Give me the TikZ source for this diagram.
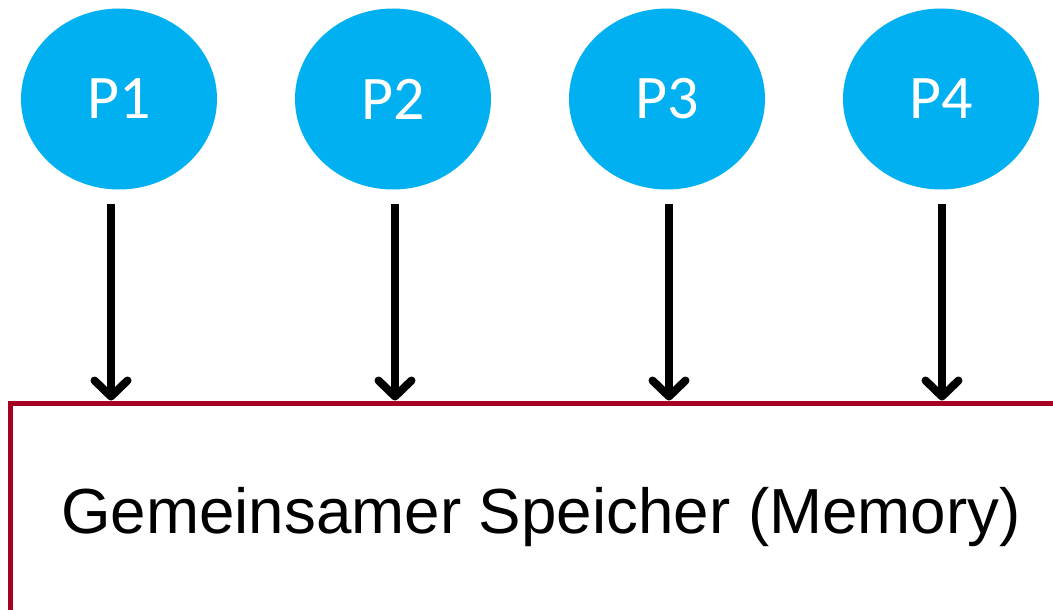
\documentclass[tikz,border=0pt]{standalone}
\usepackage{fontspec}
\setmainfont{Liberation Sans}
\newfontfamily\calibri{Carlito}
\usepackage{tikz}
\usetikzlibrary{positioning, shapes.geometric, arrows.meta}

\begin{document}
\begin{tikzpicture}[x=1pt, y=-1pt, node distance=78pt, >={Straight Barb[length=16pt, width=33pt, round]}, line width=8pt,
    proc/.style={ellipse, fill=procblue, text=white, minimum width=196pt, minimum height=181pt, inner sep=0pt, outer sep=0pt, font=\calibri\fontsize{62}{62}\selectfont},
    memory/.style={draw=memred, line width=5pt, rectangle, minimum width=1062pt, minimum height=228pt, font=\fontsize{63.7}{64}\selectfont}]
        % Define colors
        \definecolor{procblue}{HTML}{00B0F0}
        \definecolor{memred}{HTML}{A50021}

        \clip (0,0) rectangle (1053,610);

        % Nodes
        \node[proc] (p1) at (119,99) {P1};
        \node[proc, right=of p1] (p2) {P2};
        \node[proc, right=of p2] (p3) {P3};
        \node[proc, right=of p3] (p4) {P4};

        \node[memory] (mem) at (541,517) {Gemeinsamer Speicher (Memory)};

        % Edges
        \foreach \i/\dx in {1/-8, 2/2, 3/2, 4/1} {
            \draw[->] ([xshift=\dx pt, yshift=-14pt]p\i.south) -- ([xshift=\dx pt]p\i.south |- mem.north);
        }
\end{tikzpicture}
\end{document}
